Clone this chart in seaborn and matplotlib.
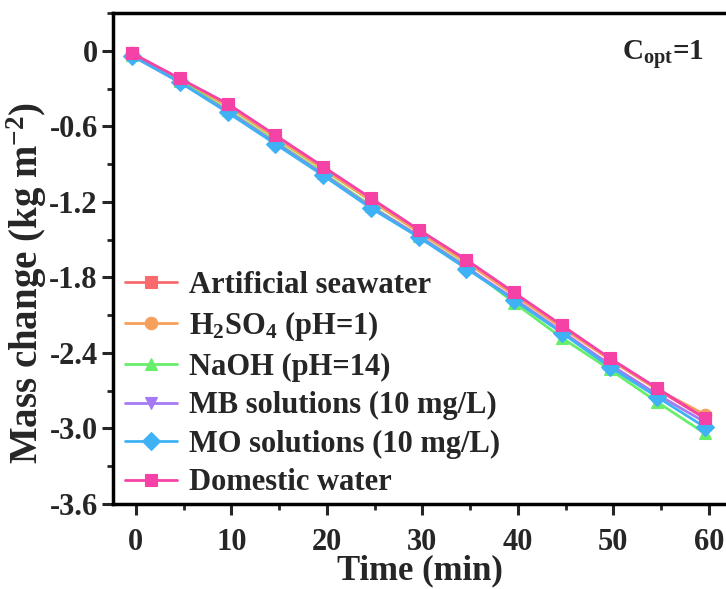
import matplotlib
matplotlib.use("Agg")
import matplotlib.pyplot as plt
import seaborn as sns
import pandas as pd
from matplotlib.ticker import MultipleLocator

time_min = [-0.4, 4.6, 9.6, 14.6, 19.6, 24.6, 29.6, 34.6, 39.6, 44.6, 49.6, 54.6, 59.6]
artificial_seawater = [-0.02, -0.23, -0.43, -0.69, -0.93, -1.19, -1.43, -1.67, -1.93, -2.19, -2.45, -2.69, -2.92]
h2so4 = [-0.02, -0.23, -0.44, -0.69, -0.94, -1.19, -1.44, -1.68, -1.94, -2.20, -2.45, -2.69, -2.89]
naoh = [-0.03, -0.24, -0.47, -0.72, -0.97, -1.23, -1.47, -1.71, -2.00, -2.28, -2.53, -2.79, -3.04]
mb_solution = [-0.04, -0.25, -0.48, -0.73, -0.98, -1.24, -1.47, -1.72, -1.97, -2.23, -2.49, -2.73, -2.95]
mo_solution = [-0.04, -0.25, -0.49, -0.74, -0.99, -1.25, -1.48, -1.73, -1.98, -2.24, -2.51, -2.75, -2.99]
domestic_water = [-0.02, -0.22, -0.42, -0.67, -0.92, -1.17, -1.42, -1.66, -1.92, -2.18, -2.44, -2.68, -2.92]

labels = ["Artificial seawater", r"H$_\mathbf{2}$SO$_\mathbf{4}$ (pH=1)", "NaOH (pH=14)",
          "MB solutions (10 mg/L)", "MO solutions (10 mg/L)", "Domestic water"]
series = [artificial_seawater, h2so4, naoh, mb_solution, mo_solution, domestic_water]
colors = ["#F86A6E", "#F6A05E", "#67EE6A", "#A57BF5", "#3FB2F5", "#F542A6"]
markers = ["s", "o", "^", "v", "D", "s"]
y_ticks = [0, -0.6, -1.2, -1.8, -2.4, -3.0, -3.6]
y_tick_labels = ["0", "-0.6", "-1.2", "-1.8", "-2.4", "-3.0", "-3.6"]
x_ticks = [0, 10, 20, 30, 40, 50, 60]

rows = []
for lab, vals in zip(labels, series):
    for t, v in zip(time_min, vals):
        rows.append({"Time": t, "Mass": v, "Sample": lab})
df = pd.DataFrame(rows)

sns.set_style("ticks")
plt.rcParams["font.family"] = ["Liberation Serif", "DejaVu Serif"]
plt.rcParams["font.weight"] = "bold"
plt.rcParams["mathtext.fontset"] = "custom"
plt.rcParams["mathtext.rm"] = "Liberation Serif:bold"
plt.rcParams["mathtext.it"] = "Liberation Serif:bold"
plt.rcParams["mathtext.bf"] = "Liberation Serif:bold"

fig = plt.figure(figsize=(7.26, 5.89), dpi=100)
ax = fig.add_axes([113 / 726, 1 - 504 / 589, 1 - 113 / 726, (504 - 13) / 589])

sns.lineplot(data=df, x="Time", y="Mass", hue="Sample", style="Sample",
             hue_order=labels, style_order=labels,
             palette=dict(zip(labels, colors)), markers=dict(zip(labels, markers)),
             dashes=False, linewidth=2, markersize=9, markeredgewidth=0.8,
             ax=ax, legend="full")
for line in ax.get_lines():
    line.set_markeredgecolor(line.get_color())

ax.set_xlim(-2.4, 61.8)
ax.set_ylim(-3.6, 0.3)
ax.set_xticks(x_ticks)
ax.set_xticklabels([str(v) for v in x_ticks])
ax.set_yticks(y_ticks)
ax.set_yticklabels(y_tick_labels)
ax.xaxis.set_minor_locator(MultipleLocator(5))
ax.yaxis.set_minor_locator(MultipleLocator(0.3))
ax.tick_params(axis="both", which="major", direction="out", length=8, width=2.2,
               labelsize=22, pad=3)
ax.tick_params(axis="x", which="major", pad=9)
ax.tick_params(axis="both", which="minor", direction="out", length=4, width=2)
for lab in ax.get_xticklabels() + ax.get_yticklabels():
    lab.set_fontweight("bold")
for side in ["left", "bottom", "top"]:
    ax.spines[side].set_linewidth(2.5)
    ax.spines[side].set_color("black")
ax.spines["right"].set_visible(False)

ax.set_xlabel("Time (min)", fontsize=25, fontweight="bold", labelpad=-2)
ax.set_ylabel(r"Mass change (kg m$^{\mathbf{-2}}$)", fontsize=28, fontweight="bold")
ax.yaxis.set_label_coords(-0.105, 0.45)

ax.text(0.83, 0.915, r"C$_\mathbf{opt}$=1", transform=ax.transAxes, fontsize=21,
        fontweight="bold", ha="left", va="center")

leg = ax.legend(loc="upper left", bbox_to_anchor=(0.0, 0.5), frameon=False,
                fontsize=22, handlelength=1.7, handletextpad=0.4,
                labelspacing=0.31, borderaxespad=0.2, borderpad=0.2)
for t in leg.get_texts():
    t.set_fontweight("bold")

fig.savefig("out.png", dpi=100)
